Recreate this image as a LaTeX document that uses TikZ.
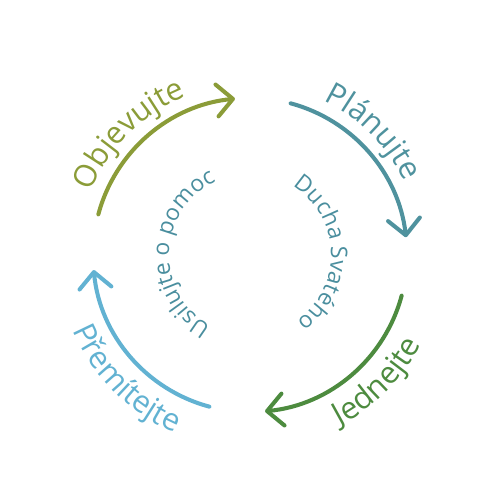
\documentclass[tikz,border=0pt]{standalone}
\usepackage{fontspec}
\setmainfont{Open Sans}
\usepackage{xcolor}
\usepackage{tikz}
\usetikzlibrary{arrows.meta,decorations.text}

\definecolor{objcol}{HTML}{8B9C38}
\definecolor{plancol}{HTML}{4F929E}
\definecolor{jedcol}{HTML}{4D8B3F}
\definecolor{premcol}{HTML}{62B2D2}
\definecolor{innercol}{HTML}{4A8E9E}

\begin{document}
\begin{tikzpicture}[>={Straight Barb[length=3.2mm,width=6.4mm,round]}]
  \useasboundingbox (-5,-4.9) rectangle (5,5.1);
  \draw[->, objcol, line width=2.3pt, line cap=round] (165:3.14) arc[start angle=165, end angle=95.5, radius=3.14];
  \draw[->, plancol, line width=2.3pt, line cap=round] (75:3.14) arc[start angle=75, end angle=6.5, radius=3.14];
  \draw[->, jedcol, line width=2.3pt, line cap=round] (-15:3.14) arc[start angle=-15, end angle=-84.5, radius=3.14];
  \draw[->, premcol, line width=2.3pt, line cap=round] (-105:3.14) arc[start angle=-105, end angle=-174.5, radius=3.14];
  \path[decorate, decoration={text along path, text align=center, text={|\fontsize{17.5}{20}\selectfont\color{objcol}|Objevujte}}] (185:3.42) arc[start angle=185, end angle=85, radius=3.42];
  \path[decorate, decoration={text along path, text align=center, text={|\fontsize{17.5}{20}\selectfont\color{plancol}|Plánujte}}] (95:3.42) arc[start angle=95, end angle=-5, radius=3.42];
  \path[decorate, decoration={text along path, text align=center, text={|\fontsize{17.5}{20}\selectfont\color{jedcol}|Jednejte}}] (-95:3.86) arc[start angle=-95, end angle=5, radius=3.86];
  \path[decorate, decoration={text along path, text align=center, text={|\fontsize{17.5}{20}\selectfont\color{premcol}|Přemítejte}}] (-185:3.86) arc[start angle=-185, end angle=-85, radius=3.86];
  \path[decorate, decoration={text along path, text align=center, text={|\fontsize{13}{15}\selectfont\color{innercol}|Usilujte o pomoc}}] (258:1.62) arc[start angle=258, end angle=98, radius=1.62];
  \path[decorate, decoration={text along path, text align=center, text={|\fontsize{13}{15}\selectfont\color{innercol}|Ducha Svatého}}] (82:1.62) arc[start angle=82, end angle=-78, radius=1.62];
\end{tikzpicture}
\end{document}
